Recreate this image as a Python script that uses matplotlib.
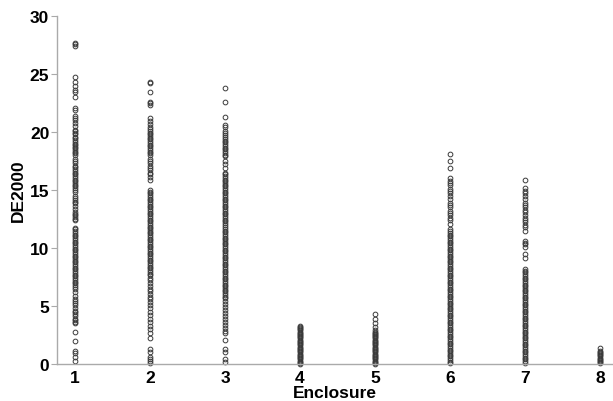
import matplotlib
matplotlib.use("Agg")
import matplotlib.pyplot as plt

# DE2000 values per enclosure
enc1 = [27.7, 27.55, 27.4, 24.75, 24.3, 24.0, 23.65, 23.4, 23.0, 22.05, 21.9,
        21.35, 21.2, 21.0, 20.75, 20.5,
        20.2, 20.05, 19.9, 19.8, 19.6, 19.45, 19.3, 19.15, 19.0, 18.85, 18.7,
        18.6, 18.45, 18.3, 18.15, 18.0,
        17.7, 17.5, 17.3, 17.1, 16.95, 16.8, 16.65, 16.5, 16.35, 16.2, 16.05,
        15.9, 15.75, 15.6, 15.45, 15.3, 15.15, 15.0, 14.85,
        14.5, 14.3, 14.15, 14.0, 13.85, 13.6, 13.35, 13.1, 12.95, 12.8, 12.65,
        12.5, 12.4,
        11.75, 11.6, 11.45, 11.3, 11.15, 11.0, 10.85, 10.7, 10.55, 10.4, 10.25,
        10.1, 9.95, 9.8, 9.65, 9.5, 9.35, 9.2, 9.05, 8.9, 8.75, 8.6, 8.45,
        8.3, 8.15, 8.0, 7.85, 7.7, 7.55, 7.4, 7.25, 7.1, 6.95, 6.8, 6.65, 6.5,
        6.2, 5.9, 5.6, 5.4, 5.25, 5.1, 4.8, 4.6, 4.45, 4.3, 4.1, 3.9, 3.75,
        3.6, 3.5, 2.8, 2.0, 1.15, 0.95, 0.6, 0.3]

enc2 = [24.3, 24.2, 23.4, 22.6, 22.5, 22.3, 21.2, 20.9, 20.7,
        20.4, 20.25, 20.1, 19.95, 19.8, 19.65, 19.5, 19.35, 19.2, 19.05, 18.9,
        18.75, 18.6, 18.45, 18.3, 18.15, 18.0,
        17.7, 17.5, 17.3, 17.1, 16.9, 16.7, 16.5, 16.35, 16.1, 15.85,
        15.0, 14.85, 14.7, 14.55, 14.4, 14.25, 14.1, 13.95, 13.8, 13.65, 13.5,
        13.35, 13.2, 13.05, 12.9, 12.75, 12.6, 12.45, 12.3, 12.15, 12.0, 11.85,
        11.7, 11.55, 11.4, 11.25, 11.1, 10.95, 10.8, 10.65, 10.5, 10.35, 10.2,
        10.05, 9.9, 9.75, 9.6, 9.45, 9.3, 9.15, 9.0, 8.85, 8.7, 8.55, 8.4,
        8.25, 8.1, 7.95, 7.8, 7.65,
        7.4, 7.2, 6.95, 6.7, 6.5, 6.3, 6.05, 5.8, 5.6, 5.35, 5.1, 4.85,
        4.5, 4.2, 3.9, 3.6, 3.3, 3.0, 2.7, 2.2, 1.3, 1.0, 0.6, 0.4, 0.25, 0.1]

enc3 = [23.8, 22.6, 21.3, 20.6, 20.4, 20.1, 19.9, 19.7,
        19.55, 19.4, 19.25, 19.1, 18.95, 18.8, 18.65, 18.5, 18.35, 18.2,
        18.05, 17.9, 17.5, 17.2, 16.9,
        16.5, 16.35, 16.2, 16.05, 15.9, 15.75, 15.6, 15.45, 15.3, 15.15, 15.0,
        14.85, 14.7, 14.55, 14.4, 14.25, 14.1, 13.95, 13.8, 13.65, 13.5, 13.35,
        13.2, 13.05, 12.9, 12.75, 12.6, 12.45, 12.3, 12.15, 12.0,
        11.8, 11.65, 11.5, 11.35, 11.2, 11.05, 10.9, 10.75, 10.6, 10.45, 10.3,
        10.15, 10.0, 9.85, 9.7, 9.55, 9.4, 9.25, 9.1, 8.95, 8.8, 8.65, 8.5,
        8.35, 8.2, 8.05, 7.9, 7.75, 7.6, 7.45, 7.3, 7.15, 7.0, 6.85, 6.7,
        6.55, 6.4, 6.25, 6.1, 5.95, 5.8, 5.65,
        5.4, 5.15, 4.9, 4.65, 4.4, 4.1, 3.85, 3.6, 3.35, 3.1, 2.85, 2.7,
        2.1, 1.3, 1.0, 0.4, 0.15]

enc4 = [3.3, 3.2, 3.1, 3.0, 2.9, 2.8, 2.7, 2.6, 2.5, 2.4, 2.3, 2.2, 2.1, 2.0,
        1.9, 1.8, 1.7, 1.6, 1.5, 1.4, 1.3, 1.2, 1.1, 1.0, 0.9, 0.8, 0.7, 0.6,
        0.5, 0.4, 0.3, 0.2, 0.1, 0.0]

enc5 = [4.35, 3.9, 3.5, 3.2, 2.9, 2.8, 2.7, 2.6, 2.5, 2.4, 2.3, 2.2, 2.1,
        2.0, 1.9, 1.8, 1.7, 1.6, 1.5, 1.4, 1.3, 1.2, 1.1, 1.0, 0.9, 0.8, 0.7,
        0.6, 0.5, 0.4, 0.3, 0.2, 0.1, 0.0]

enc6 = [18.1, 17.5, 16.9, 16.0, 15.8, 15.6, 15.4, 15.1, 14.9, 14.7, 14.45,
        14.2, 13.9, 13.7, 13.5, 13.2, 13.0, 12.8, 12.6, 12.4, 12.1,
        11.6, 11.45, 11.3, 11.15, 11.0, 10.85, 10.7, 10.55, 10.4, 10.25, 10.1,
        9.95, 9.8, 9.65, 9.5, 9.35, 9.2, 9.05, 8.9, 8.75, 8.6, 8.45, 8.3,
        8.15, 8.0, 7.85, 7.7, 7.55, 7.4, 7.25, 7.1, 6.95, 6.8, 6.65, 6.5,
        6.35, 6.2, 6.05, 5.9, 5.75, 5.6, 5.45, 5.3, 5.15, 5.0, 4.85, 4.7,
        4.55, 4.4, 4.25, 4.1, 3.95, 3.8, 3.65, 3.5, 3.35, 3.2, 3.05, 2.9,
        2.75, 2.6, 2.45, 2.3, 2.15, 2.0, 1.85, 1.7, 1.55, 1.4, 1.25, 1.1,
        0.95, 0.8, 0.65, 0.5, 0.35, 0.2, 0.05]

enc7 = [15.9, 15.2, 14.9, 14.7, 14.45, 14.2, 13.9, 13.7, 13.5, 13.3, 13.1,
        12.8, 12.6, 12.4, 12.2, 12.0, 11.8, 11.5, 10.6, 10.45, 10.3, 10.1,
        9.5, 9.1,
        8.2, 8.05, 7.9, 7.75, 7.6, 7.45, 7.3, 7.15, 7.0, 6.85, 6.7, 6.55,
        6.4, 6.25, 6.1, 5.95, 5.8, 5.65, 5.5, 5.35, 5.2, 5.05, 4.9, 4.75,
        4.6, 4.45, 4.3, 4.15, 4.0, 3.85, 3.7, 3.55, 3.4, 3.25, 3.1, 2.95,
        2.8, 2.65, 2.5, 2.35, 2.2, 2.05, 1.9, 1.75, 1.6, 1.45, 1.3, 1.15,
        1.0, 0.85, 0.7, 0.55, 0.4, 0.25, 0.1]

enc8 = [1.4, 1.15, 1.05, 0.95, 0.85, 0.75, 0.65, 0.55, 0.45, 0.35, 0.25,
        0.15, 0.05]

groups = [enc1, enc2, enc3, enc4, enc5, enc6, enc7, enc8]
tick_labels = ['1', '2', '3', '4', '5', '6', '7', '8']

plt.rcParams['font.family'] = ['Liberation Sans', 'DejaVu Sans']

fig = plt.figure(figsize=(6.13, 4.02), dpi=100)
ax = fig.add_axes([0.093, 0.092, 0.907, 0.866])

for i, vals in enumerate(groups):
    ax.plot([i + 1] * len(vals), vals, linestyle='none', marker='o',
            markersize=3.4, markerfacecolor='none', markeredgecolor='#3a3a3a',
            markeredgewidth=0.7, clip_on=False)

ax.set_xlim(0.76, 8.173)
ax.set_ylim(0, 30)
ax.set_xticks(range(1, 9))
ax.set_xticklabels(tick_labels)
ax.set_yticks([0, 5, 10, 15, 20, 25, 30])

for side in ['top', 'right']:
    ax.spines[side].set_visible(False)
for side in ['left', 'bottom']:
    ax.spines[side].set_color('#aaaaaa')
    ax.spines[side].set_linewidth(1.0)

ax.tick_params(axis='x', length=0, pad=4, labelsize=12.5)
ax.tick_params(axis='y', length=4, color='#aaaaaa', pad=1.5, labelsize=12.5)
for lab in ax.get_xticklabels() + ax.get_yticklabels():
    lab.set_fontweight('bold')

ax.set_xlabel('Enclosure', fontsize=12.5, fontweight='bold', labelpad=0.5)
ax.set_ylabel('DE2000', fontsize=12.5, fontweight='bold', labelpad=3)

fig.savefig('out.png', dpi=100)
